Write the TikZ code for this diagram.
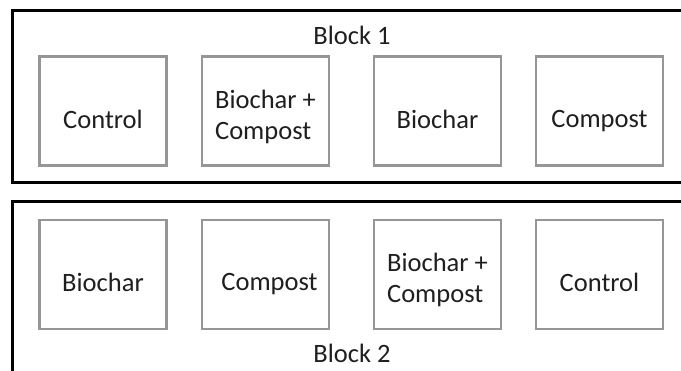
\documentclass[tikz,border=0pt]{standalone}
\usepackage{fontspec}
\setmainfont{Carlito}
\newcommand\mystrut{\vphantom{Cp}}
\begin{document}
\begin{tikzpicture}[x=1pt,y=-1pt,
  plot/.style={draw={rgb,255:red,150;green,150;blue,150}, line width=2.2pt, minimum width=127pt, minimum height=109pt, inner sep=0pt},
  txt/.style={align=left, inner sep=0pt, font=\fontsize{26.5}{31}\selectfont, text=black!88},
  blockframe/.style={draw=black, line width=3pt},
  lbl/.style={font=\fontsize{26.5}{31}\selectfont, text=black!88, inner sep=0pt}]
\useasboundingbox (0,0) rectangle (681,371);
\fill[white] (0,0) rectangle (681,371);
\draw[blockframe] (12,11) rectangle (690,183);
\draw[blockframe] (12,202) rectangle (690,380);
\node[lbl, anchor=base] (b1) at (352,45) {Block 1};
\node[lbl, anchor=base] (b2) at (352,363) {Block 2};
% Block 1
\node[plot] (p11) at (103,111) {};
\node[plot] (p12) at (265.5,111) {};
\node[plot] (p13) at (437.5,111) {};
\node[plot] (p14) at (599.5,111) {};
\node[txt] (t11) at ([yshift=-10pt]p11.center) {Control\mystrut};
\node[txt] (t12) at ([yshift=-6pt]p12.center) {Biochar +\mystrut\\Compost\mystrut};
\node[txt] (t13) at ([yshift=-10pt]p13.center) {Biochar\mystrut};
\node[txt] (t14) at ([yshift=-10pt]p14.center) {Compost\mystrut};
% Block 2
\node[plot] (p21) at (103,274.5) {};
\node[plot] (p22) at (265.5,274.5) {};
\node[plot] (p23) at (437.5,274.5) {};
\node[plot] (p24) at (599.5,274.5) {};
\node[txt] (t21) at ([yshift=-10pt]p21.center) {Biochar\mystrut};
\node[txt] (t22) at ([yshift=-10pt,xshift=4pt]p22.center) {Compost\mystrut};
\node[txt] (t23) at ([yshift=-5pt]p23.center) {Biochar +\mystrut\\Compost\mystrut};
\node[txt] (t24) at ([yshift=-10pt]p24.center) {Control\mystrut};
\end{tikzpicture}
\end{document}
